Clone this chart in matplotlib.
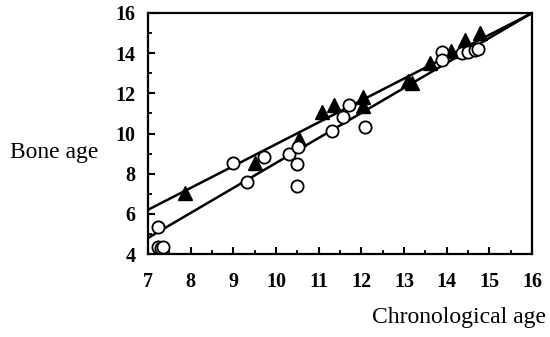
import matplotlib
matplotlib.use("Agg")
import matplotlib.pyplot as plt
import numpy as np

# Data
circ_x = [7.23, 7.23, 7.3, 7.35, 9.0, 9.32, 9.72, 10.3, 10.52, 10.5, 10.5, 11.31, 11.57, 11.7, 12.08,
          13.9, 13.9, 14.36, 14.5, 14.66, 14.74]
circ_y = [5.35, 4.35, 4.3, 4.35, 8.55, 7.6, 8.85, 9.0, 9.35, 8.5, 7.4, 10.1, 10.8, 11.4, 10.3,
          14.05, 13.65, 14.0, 14.05, 14.15, 14.2]
tri_x = [7.87, 9.5, 10.54, 11.08, 11.36, 12.04, 12.04, 13.1, 13.19, 13.6, 14.1, 14.43, 14.78]
tri_y = [7.03, 8.55, 9.75, 11.05, 11.4, 11.8, 11.35, 12.6, 12.5, 13.5, 14.1, 14.65, 15.0]
line_upper = ([7, 16], [6.2, 16])
line_lower = ([7, 16], [4.8, 16])
xticks = [7, 8, 9, 10, 11, 12, 13, 14, 15, 16]
yticks = [4, 6, 8, 10, 12, 14, 16]

fig = plt.figure(figsize=(5.5, 3.37), dpi=100)
ax = fig.add_axes([148/550, 1-254/337, (532-148)/550, (254-13)/337])

ax.plot(*line_upper, color='black', lw=1.8, zorder=2)
ax.plot(*line_lower, color='black', lw=1.8, zorder=2)
ax.plot(tri_x, tri_y, linestyle='none', marker='^', ms=9.5, color='black', zorder=3)
ax.plot(circ_x, circ_y, linestyle='none', marker='o', ms=8.8, mfc='white', mec='black', mew=1.3, zorder=4)

ax.set_xlim(7, 16)
ax.set_ylim(4, 16)
ax.set_xticks(xticks)
ax.set_yticks(yticks)
ax.set_xticks(np.arange(7.5, 16, 1), minor=True)
ax.set_yticks(np.arange(5, 16, 2), minor=True)

for s in ax.spines.values():
    s.set_linewidth(1.6)

ax.tick_params(axis='both', which='major', direction='in', length=5, width=1.5,
               top=False, right=False)
ax.tick_params(axis='both', which='minor', direction='in', length=3, width=1.3,
               top=False, right=False)
ax.tick_params(axis='x', which='major', pad=13)
ax.tick_params(axis='y', which='major', pad=9)
for lab in ax.get_xticklabels() + ax.get_yticklabels():
    lab.set_fontfamily('Liberation Serif')
    lab.set_fontweight('bold')
    lab.set_fontsize(14.5)

fig.text(10/550, 1-158/337, 'Bone age', family='Liberation Serif', fontsize=17,
         ha='left', va='baseline')
fig.text(459/550, 1-318/337, 'Chronological age', family='Liberation Serif', fontsize=17,
         ha='center', va='center')

fig.savefig('out.png', dpi=100)
